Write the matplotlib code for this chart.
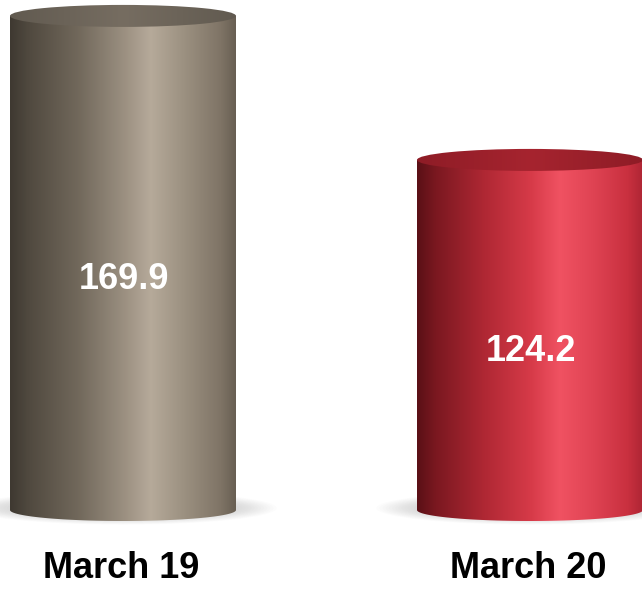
import numpy as np
import matplotlib
matplotlib.use('Agg')
import matplotlib.pyplot as plt
from matplotlib.patches import Ellipse, PathPatch
from matplotlib.path import Path
from matplotlib.colors import LinearSegmentedColormap

categories = ['March 19', 'March 20']
values = [169.9, 124.2]
value_labels = ['169.9', '124.2']

body_stops = [
    [(0.0, '#3e3931'), (0.08, '#50493f'), (0.3, '#71685b'), (0.5, '#9a8f80'),
     (0.62, '#b6aa9a'), (0.76, '#9d9282'), (0.93, '#7f7466'), (1.0, '#675e52')],
    [(0.0, '#5a1016'), (0.08, '#7a1820'), (0.3, '#b02834'), (0.5, '#d63a48'),
     (0.63, '#f05262'), (0.77, '#e04454'), (0.93, '#c9303f'), (1.0, '#ad2534')],
]
top_colors = [('#615a50', '#766d61'), ('#8e1c26', '#a6242f')]

fig = plt.figure(figsize=(6.42, 5.89), dpi=100)
ax = fig.add_axes([0, 0, 1, 1])
ax.set_xlim(-0.3022, 1.2752)
ax.set_ylim(-11.97, 174.95)
ax.axis('off')

base = 13.1
width = 0.5553
eh = 22 / 3.151

for i, (cat, v) in enumerate(zip(categories, values)):
    xc = i
    x0, x1 = xc - width / 2, xc + width / 2
    # shadow
    for k in range(14):
        f = k / 13
        ax.add_patch(Ellipse((xc, base + 0.6), width * (1.36 - 0.36 * f), eh * (1.5 - 0.6 * f),
                             facecolor='#909090', edgecolor='none', alpha=0.025, zorder=1))
    # body path
    t = np.linspace(np.pi, 2 * np.pi, 60)
    pts = [(x0, v), (x0, base)] + [(xc + width / 2 * np.cos(a), base + eh / 2 * np.sin(a)) for a in t] + [(x1, v), (x0, v)]
    codes = [Path.MOVETO] + [Path.LINETO] * (len(pts) - 2) + [Path.CLOSEPOLY]
    body = PathPatch(Path(pts, codes), facecolor='none', edgecolor='none', zorder=2)
    ax.add_patch(body)
    cmap = LinearSegmentedColormap.from_list('b%d' % i, body_stops[i])
    grad = np.linspace(0, 1, 256).reshape(1, -1)
    im = ax.imshow(grad, cmap=cmap, extent=(x0, x1, base - eh / 2, v), aspect='auto', zorder=2,
                   interpolation='bilinear')
    im.set_clip_path(body)
    # top ellipse
    top = Ellipse((xc, v), width, eh, facecolor='none', edgecolor='none', zorder=3)
    ax.add_patch(top)
    tcmap = LinearSegmentedColormap.from_list('t%d' % i, [top_colors[i][0], top_colors[i][1], top_colors[i][0]])
    tg = np.linspace(0, 1, 256).reshape(1, -1)
    im2 = ax.imshow(tg, cmap=tcmap, extent=(x0, x1, v - eh / 2, v + eh / 2), aspect='auto', zorder=3,
                    interpolation='bilinear')
    im2.set_clip_path(top)
    ax.text(xc + 0.003, v * 0.5 + 1.2, value_labels[i], ha='center', va='center', color='white',
            fontsize=26, fontweight='bold', family=['Liberation Sans', 'DejaVu Sans'], zorder=5)
    ax.text(xc - 0.005, -5.6, cat, ha='center', va='center', color='black',
            fontsize=26, fontweight='bold', family=['Liberation Sans', 'DejaVu Sans'], zorder=5)

fig.savefig('out.png', dpi=100)
